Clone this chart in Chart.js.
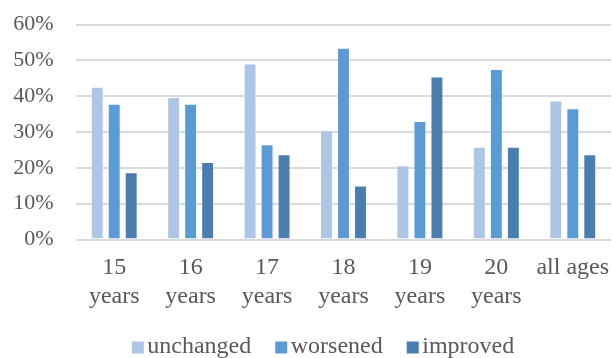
<!DOCTYPE html>
<html>
<head>
<meta charset="utf-8">
<script src="https://cdn.jsdelivr.net/npm/chart.js@4/dist/chart.umd.min.js"></script>
<style>
  html, body { margin: 0; padding: 0; background: #ffffff; }
  #wrap { width: 612px; height: 358px; }
</style>
</head>
<body>
<div id="wrap"><canvas id="chart" width="612" height="358"></canvas></div>
<script>
// Age groups along the x axis (two-line labels)
const categories = [
  ["15", "years"], ["16", "years"], ["17", "years"], ["18", "years"],
  ["19", "years"], ["20", "years"], "all ages"
];

// Share of respondents per group, in percent
const unchanged = [42.6, 39.8, 49.1, 30.5, 20.7, 25.9, 38.8];
const worsened  = [37.9, 37.9, 26.6, 53.5, 33.1, 47.6, 36.6];
const improved  = [18.8, 21.6, 23.8, 15.1, 45.5, 25.9, 23.8];

const yTicks = [0, 10, 20, 30, 40, 50, 60];

const seriesNames = ["unchanged", "worsened", "improved"];
const seriesColors = ["#adc6e6", "#5b9bd5", "#4a7eb0"];

const font = "'Liberation Serif', 'Times New Roman', serif";
const textColor = "#595959";

const mkSet = (label, data, color) => ({
  label, data,
  backgroundColor: color,
  borderColor: "rgba(255,255,255,0.35)",
  borderWidth: 1,
  categoryPercentage: 0.667,
  barPercentage: 0.76
});

// Compact legend row under the chart: square swatch, tight gap, label text
const bottomLegend = {
  id: "bottomLegend",
  afterDraw(chart) {
    const ctx = chart.ctx;
    const items = chart.data.datasets.map(d => ({ text: d.label, color: d.backgroundColor }));
    const box = 12, gapText = 3.5, gapItem = 24, size = 24;
    ctx.save();
    ctx.font = size + "px " + font;
    const widths = items.map(it => box + gapText + ctx.measureText(it.text).width);
    const total = widths.reduce((a, b) => a + b, 0) + gapItem * (items.length - 1);
    let x = 323 - total / 2;
    const baseline = 352.5;
    items.forEach((it, i) => {
      ctx.fillStyle = it.color;
      ctx.fillRect(x, baseline - 11, box, box);
      ctx.fillStyle = textColor;
      ctx.textBaseline = "alphabetic";
      ctx.textAlign = "left";
      ctx.fillText(it.text, x + box + gapText, baseline);
      x += widths[i] + gapItem;
    });
    ctx.restore();
  }
};

new Chart(document.getElementById("chart"), {
  type: "bar",
  data: {
    labels: categories,
    datasets: [
      mkSet(seriesNames[0], unchanged, seriesColors[0]),
      mkSet(seriesNames[1], worsened, seriesColors[1]),
      mkSet(seriesNames[2], improved, seriesColors[2])
    ]
  },
  plugins: [bottomLegend],
  options: {
    responsive: false,
    animation: false,
    layout: { padding: { top: 24.5, right: 1, left: 0, bottom: 46.5 } },
    plugins: {
      tooltip: { enabled: false },
      legend: { display: false }
    },
    scales: {
      x: {
        afterFit: s => {
          s.height = 72;
          s.paddingLeft = 0; s.paddingRight = 0;
        },
        grid: { display: false, drawTicks: false },
        border: { display: false },
        ticks: {
          font: { family: font, size: 24, lineHeight: 1.2 },
          color: textColor,
          padding: 14,
          maxRotation: 0,
          autoSkip: false
        }
      },
      y: {
        min: 0,
        max: 60,
        afterBuildTicks: s => { s.ticks = yTicks.map(v => ({ value: v })); },
        afterFit: s => {
          s.width = 76;
          s.paddingTop = 0; s.paddingBottom = 0;
        },
        grid: { color: "#d9d9d9", lineWidth: 2, drawTicks: false },
        border: { display: false },
        ticks: {
          font: { family: font, size: 22 },
          color: textColor,
          padding: 22.5,
          callback: v => v + "%"
        }
      }
    }
  }
});
</script>
</body>
</html>
